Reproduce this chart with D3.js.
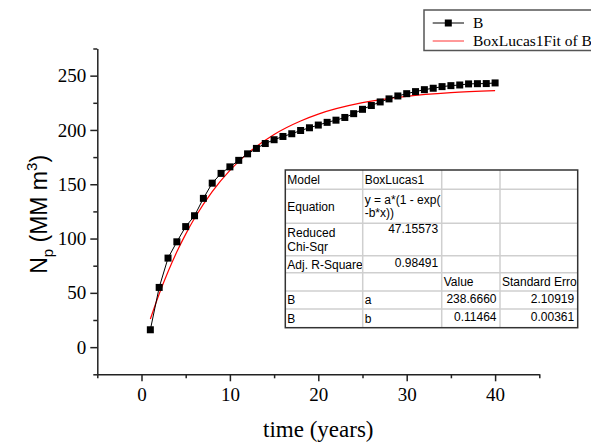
<!DOCTYPE html>
<html>
<head>
<meta charset="utf-8">
<script src="https://cdn.jsdelivr.net/npm/d3@7"></script>
<style>
  body { margin: 0; background: #fff; }
  svg { display: block; }
</style>
</head>
<body>
<div id="chart"></div>
<script>
// data
const years = d3.range(1, 41);
const npValues = [16, 55, 82, 97, 111, 121, 137, 151, 160, 166,
                  172, 178, 183, 187.5, 191, 194, 196.5, 199.5, 202, 204.5,
                  207, 209, 211.5, 215, 219, 222.5, 225.8, 228.6, 231.3, 233.4,
                  235.3, 237.1, 238.4, 239.9, 240.8, 241.4, 242.4, 242.6, 242.7, 243.3];
const fitYears  = [1, 2, 3, 4, 5, 6, 8, 10, 12, 15, 18, 20, 25, 30, 35, 40];
const fitValues = [25.9, 48.9, 69.4, 87.8, 104.1, 118.7, 143.3, 162.8, 178.4, 195.9,
                   208.3, 214.6, 225.1, 231.0, 234.3, 236.2];

const xTicks = [0, 10, 20, 30, 40];
const yTicks = [0, 50, 100, 150, 200, 250];
const legendLabels = ['B', 'BoxLucas1Fit of B'];

// table content, one array per column
const tableCol1 = [['Model'], ['Equation'], ['Reduced', 'Chi-Sqr'], ['Adj. R-Square'], [''], ['B'], ['B']];
const tableCol2 = [['BoxLucas1'], ['y = a*(1 - exp(', '-b*x))'], ['47.15573'], ['0.98491'], [''], ['a'], ['b']];
const tableCol3 = [[''], [''], [''], [''], ['Value'], ['238.6660'], ['0.11464']];
const tableCol4 = [[''], [''], [''], [''], ['Standard Error'], ['2.10919'], ['0.00361']];

// chart static params
const W = 591, H = 446;
const serif = "'Liberation Serif', 'Times New Roman', serif";
const sans = "'Liberation Sans', Arial, sans-serif";

const svg = d3.select('#chart').append('svg')
    .attr('width', W)
    .attr('height', H);

// scales
const xScale = d3.scaleLinear().domain([-5, 45]).range([97.3, 539.3]);
const yScale = d3.scaleLinear().domain([-25, 275]).range([374.3, 48.5]);

const axisColor = '#222';

// X axis
const xAxisG = svg.append('g')
    .attr('transform', `translate(0,${yScale(-25)})`);
xAxisG.call(d3.axisBottom(xScale).tickValues(d3.range(-5, 46, 5).filter(v => v % 10 !== 0))
    .tickSize(4).tickFormat(''));
xAxisG.call(g => g.select('.domain').remove());
const xMajor = svg.append('g')
    .attr('transform', `translate(0,${yScale(-25)})`)
    .call(d3.axisBottom(xScale).tickValues(xTicks).tickSize(7).tickPadding(6).tickSizeOuter(0));
[xAxisG, xMajor].forEach(g => {
  g.selectAll('line').attr('stroke', axisColor).attr('stroke-width', 1.5);
  g.selectAll('path').attr('stroke', axisColor).attr('stroke-width', 1.5);
});
xMajor.selectAll('text')
    .attr('font-family', serif)
    .attr('font-size', 19)
    .attr('fill', '#000');

// Y axis
const yAxisG = svg.append('g')
    .attr('transform', `translate(${xScale(-5)},0)`);
yAxisG.call(d3.axisLeft(yScale).tickValues(d3.range(-25, 276, 50))
    .tickSize(4).tickFormat(''));
yAxisG.call(g => g.select('.domain').remove());
const yMajor = svg.append('g')
    .attr('transform', `translate(${xScale(-5)},0)`)
    .call(d3.axisLeft(yScale).tickValues(yTicks).tickSize(7).tickPadding(4).tickSizeOuter(0));
[yAxisG, yMajor].forEach(g => {
  g.selectAll('line').attr('stroke', axisColor).attr('stroke-width', 1.5);
  g.selectAll('path').attr('stroke', axisColor).attr('stroke-width', 1.5);
});
yMajor.selectAll('text')
    .attr('font-family', serif)
    .attr('font-size', 19)
    .attr('fill', '#000');

// axis labels
svg.append('text')
    .attr('x', (xScale(-5) + xScale(45)) / 2)
    .attr('y', 437)
    .attr('text-anchor', 'middle')
    .attr('font-family', serif)
    .attr('font-size', 23)
    .text('time (years)');

const yLab = svg.append('text')
    .attr('text-anchor', 'middle')
    .attr('transform', `translate(47,${(yScale(-25) + yScale(275)) / 2 + 3}) rotate(-90)`)
    .attr('font-family', sans)
    .attr('font-size', 23);
yLab.append('tspan').text('N');
yLab.append('tspan').attr('font-size', 15).attr('dy', 6).text('p');
yLab.append('tspan').attr('dy', -6).text(' (MM m');
yLab.append('tspan').attr('font-size', 15).attr('dy', -10).text('3');
yLab.append('tspan').attr('dy', 10).text(')');

// fit curve
const fitLine = d3.line()
    .x((d, i) => xScale(fitYears[i]))
    .y(d => yScale(d))
    .curve(d3.curveMonotoneX);
svg.append('path')
    .datum(fitValues)
    .attr('d', fitLine)
    .attr('fill', 'none')
    .attr('stroke', '#ff0000')
    .attr('stroke-width', 1.2);

// data line + squares
const dataLine = d3.line()
    .x((d, i) => xScale(years[i]))
    .y(d => yScale(d));
svg.append('path')
    .datum(npValues)
    .attr('d', dataLine)
    .attr('fill', 'none')
    .attr('stroke', '#000')
    .attr('stroke-width', 1);

const sq = 7;
svg.append('g').selectAll('rect')
    .data(npValues)
    .join('rect')
    .attr('x', (d, i) => xScale(years[i]) - sq / 2)
    .attr('y', d => yScale(d) - sq / 2)
    .attr('width', sq)
    .attr('height', sq)
    .attr('fill', '#000');

// legend
const lg = svg.append('g');
lg.append('rect')
    .attr('x', 424).attr('y', 10)
    .attr('width', 180).attr('height', 40.5)
    .attr('fill', '#fff')
    .attr('stroke', '#555')
    .attr('stroke-width', 1.5);
lg.append('line')
    .attr('x1', 432.7).attr('x2', 464).attr('y1', 23).attr('y2', 23)
    .attr('stroke', '#000').attr('stroke-width', 1);
lg.append('rect')
    .attr('x', 448.3 - sq / 2).attr('y', 23 - sq / 2)
    .attr('width', sq).attr('height', sq).attr('fill', '#000');
lg.append('line')
    .attr('x1', 432.7).attr('x2', 464).attr('y1', 41).attr('y2', 41)
    .attr('stroke', '#ff3333').attr('stroke-width', 1);
lg.selectAll('text.leg')
    .data(legendLabels)
    .join('text')
    .attr('class', 'leg')
    .attr('x', 473)
    .attr('y', (d, i) => 28 + i * 18)
    .attr('font-family', serif)
    .attr('font-size', 15.5)
    .text(d => d);

// parameters table
const colX = [285.3, 362.7, 441.7, 500, 577.7];
const rowY = [170, 189.3, 223.3, 255.7, 272.7, 291, 309, 327.7];
const columns = [tableCol1, tableCol2, tableCol3, tableCol4];

const tg = svg.append('g');
tg.append('rect')
    .attr('x', colX[0]).attr('y', rowY[0])
    .attr('width', colX[4] - colX[0]).attr('height', rowY[7] - rowY[0])
    .attr('fill', '#fff');
// inner grid
tg.selectAll('line.h')
    .data(rowY.slice(1, -1))
    .join('line')
    .attr('x1', colX[0]).attr('x2', colX[4])
    .attr('y1', d => d).attr('y2', d => d)
    .attr('stroke', '#cfcfcf').attr('stroke-width', 1.5);
tg.selectAll('line.v')
    .data(colX.slice(1, -1))
    .join('line')
    .attr('y1', rowY[0]).attr('y2', rowY[7])
    .attr('x1', d => d).attr('x2', d => d)
    .attr('stroke', '#cfcfcf').attr('stroke-width', 1.5);
tg.append('rect')
    .attr('x', colX[0]).attr('y', rowY[0])
    .attr('width', colX[4] - colX[0]).attr('height', rowY[7] - rowY[0])
    .attr('fill', 'none')
    .attr('stroke', '#333').attr('stroke-width', 1.5);

const defs = svg.append('defs');
columns.forEach((col, c) => {
  defs.append('clipPath').attr('id', 'tclip' + c)
    .append('rect')
    .attr('x', colX[c]).attr('y', rowY[0])
    .attr('width', colX[c + 1] - colX[c] - 0.5).attr('height', rowY[7] - rowY[0]);
  const cg = tg.append('g').attr('clip-path', `url(#tclip${c})`);
  col.forEach((lines, r) => {
    const top = rowY[r], h = rowY[r + 1] - rowY[r];
    const numeric = lines[0] !== '' && !isNaN(+lines[0]);
    let c0 = top + h / 2 - (lines.length - 1) * 6.7;
    if (numeric && h > 20) c0 = top + 5;
    else if (numeric) c0 = top + h / 2 - 1.3;
    lines.forEach((t, k) => {
      cg.append('text')
        .attr('x', numeric ? colX[c + 1] - 3.5 : colX[c] + 2)
        .attr('y', c0 + k * 13.4 + 4.4)
        .attr('text-anchor', numeric ? 'end' : 'start')
        .attr('font-family', sans)
        .attr('font-size', 12)
        .text(t);
    });
  });
});
</script>
</body>
</html>
